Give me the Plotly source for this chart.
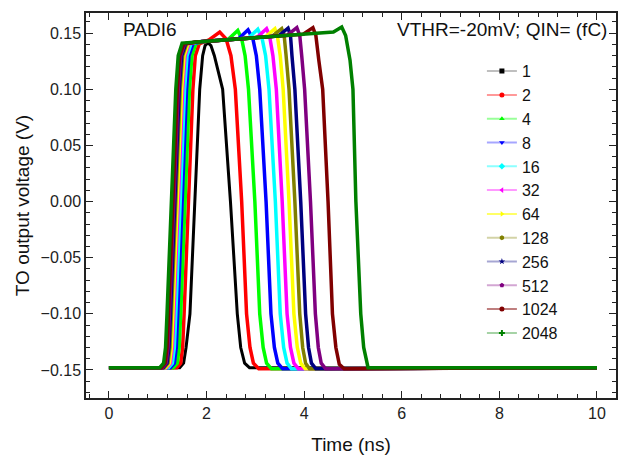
import plotly.graph_objects as go

# QIN values (fC) used as legend labels
charges = ["1", "2", "4", "8", "16", "32", "64", "128", "256", "512", "1024", "2048"]

# waveform points: time (ns), TO output (V)
t_1 = [0, 1.45, 1.53, 1.58, 1.66, 1.76, 1.86, 1.92, 1.97, 2.03, 2.09, 2.16, 2.33, 2.49, 2.63, 2.70, 2.78, 2.88, 10]
v_1 = [-0.148, -0.148, -0.144, -0.13, -0.10, 0.0, 0.10, 0.13, 0.139, 0.1415, 0.139, 0.13, 0.10, 0.0, -0.10, -0.13, -0.144, -0.148, -0.148]

t_2 = [0, 1.39, 1.47, 1.51, 1.54, 1.63, 1.72, 1.77, 1.85, 2.05, 2.27, 2.40, 2.50, 2.59, 2.72, 2.82, 2.89, 2.96, 3.07, 10]
v_2 = [-0.148, -0.148, -0.144, -0.13, -0.10, 0.0, 0.10, 0.13, 0.1405, 0.1440, 0.151, 0.145, 0.13, 0.10, 0.0, -0.10, -0.13, -0.144, -0.149, -0.148]

t_4 = [0, 1.32, 1.40, 1.44, 1.47, 1.56, 1.65, 1.70, 1.78, 1.95, 2.44, 2.64, 2.72, 2.79, 2.86, 2.99, 3.09, 3.16, 3.23, 3.33, 10]
v_4 = [-0.148, -0.148, -0.144, -0.13, -0.10, 0.0, 0.10, 0.13, 0.1405, 0.1427, 0.1443, 0.1525, 0.145, 0.13, 0.10, 0.0, -0.10, -0.13, -0.144, -0.149, -0.148]

t_8 = [0, 1.26, 1.34, 1.38, 1.41, 1.50, 1.59, 1.64, 1.72, 1.90, 2.65, 2.85, 2.95, 3.02, 3.09, 3.22, 3.32, 3.39, 3.46, 3.56, 10]
v_8 = [-0.148, -0.148, -0.144, -0.13, -0.10, 0.0, 0.10, 0.13, 0.1405, 0.1426, 0.1449, 0.153, 0.145, 0.13, 0.10, 0.0, -0.10, -0.13, -0.144, -0.149, -0.148]

t_16 = [0, 1.22, 1.30, 1.34, 1.37, 1.46, 1.55, 1.60, 1.68, 1.85, 2.85, 3.05, 3.14, 3.21, 3.28, 3.41, 3.51, 3.58, 3.65, 3.74, 10]
v_16 = [-0.148, -0.148, -0.144, -0.13, -0.10, 0.0, 0.10, 0.13, 0.1405, 0.1424, 0.1455, 0.1535, 0.145, 0.13, 0.10, 0.0, -0.10, -0.13, -0.144, -0.149, -0.148]

t_32 = [0, 1.18, 1.26, 1.30, 1.33, 1.42, 1.51, 1.56, 1.64, 1.80, 3.03, 3.23, 3.29, 3.36, 3.43, 3.55, 3.65, 3.72, 3.79, 3.88, 10]
v_32 = [-0.148, -0.148, -0.144, -0.13, -0.10, 0.0, 0.10, 0.13, 0.1405, 0.1422, 0.1461, 0.154, 0.148, 0.13, 0.10, 0.0, -0.10, -0.13, -0.144, -0.149, -0.148]

t_64 = [0, 1.16, 1.24, 1.28, 1.31, 1.40, 1.49, 1.54, 1.62, 1.80, 3.20, 3.40, 3.45, 3.51, 3.57, 3.69, 3.79, 3.86, 3.93, 4.02, 10]
v_64 = [-0.148, -0.148, -0.144, -0.13, -0.10, 0.0, 0.10, 0.13, 0.1405, 0.1422, 0.1466, 0.154, 0.148, 0.13, 0.10, 0.0, -0.10, -0.13, -0.144, -0.149, -0.148]

t_128 = [0, 1.13, 1.21, 1.25, 1.28, 1.37, 1.46, 1.51, 1.59, 1.80, 3.34, 3.54, 3.59, 3.63, 3.69, 3.81, 3.91, 3.97, 4.03, 4.11, 10]
v_128 = [-0.148, -0.148, -0.144, -0.13, -0.10, 0.0, 0.10, 0.13, 0.1405, 0.1422, 0.1471, 0.154, 0.148, 0.13, 0.10, 0.0, -0.10, -0.13, -0.144, -0.149, -0.148]

t_256 = [0, 1.11, 1.19, 1.23, 1.26, 1.35, 1.44, 1.49, 1.57, 1.80, 3.47, 3.67, 3.72, 3.75, 3.81, 3.93, 4.03, 4.09, 4.15, 4.24, 10]
v_256 = [-0.148, -0.148, -0.144, -0.13, -0.10, 0.0, 0.10, 0.13, 0.1405, 0.1422, 0.1475, 0.1545, 0.148, 0.13, 0.10, 0.0, -0.10, -0.13, -0.144, -0.149, -0.148]

t_512 = [0, 1.09, 1.17, 1.21, 1.24, 1.33, 1.42, 1.47, 1.55, 1.80, 3.65, 3.85, 3.91, 3.95, 4.01, 4.13, 4.23, 4.29, 4.35, 4.44, 10]
v_512 = [-0.148, -0.148, -0.144, -0.13, -0.10, 0.0, 0.10, 0.13, 0.1405, 0.1422, 0.1481, 0.155, 0.148, 0.13, 0.10, 0.0, -0.10, -0.13, -0.144, -0.149, -0.148]

t_1024 = [0, 1.07, 1.15, 1.19, 1.22, 1.31, 1.40, 1.45, 1.53, 1.80, 3.98, 4.18, 4.24, 4.30, 4.38, 4.49, 4.58, 4.65, 4.72, 4.82, 10]
v_1024 = [-0.148, -0.148, -0.144, -0.13, -0.10, 0.0, 0.10, 0.13, 0.1405, 0.1422, 0.1491, 0.155, 0.148, 0.126, 0.10, 0.0, -0.10, -0.13, -0.145, -0.149, -0.148]

t_2048 = [0, 1.04, 1.12, 1.16, 1.19, 1.28, 1.37, 1.42, 1.50, 2.5, 3.5, 4.6, 4.77, 4.85, 4.94, 5.00, 5.06, 5.16, 5.22, 5.31, 10]
v_2048 = [-0.148, -0.148, -0.144, -0.13, -0.10, 0.0, 0.10, 0.13, 0.1412, 0.1444, 0.1476, 0.151, 0.1555, 0.148, 0.126, 0.10, 0.0, -0.10, -0.13, -0.148, -0.148]

times = [t_1, t_2, t_4, t_8, t_16, t_32, t_64, t_128, t_256, t_512, t_1024, t_2048]
volts = [v_1, v_2, v_4, v_8, v_16, v_32, v_64, v_128, v_256, v_512, v_1024, v_2048]

colors = ["#000000", "#FF0000", "#00FF00", "#0000FF", "#00FFFF", "#FF00FF",
          "#FFFF00", "#808000", "#000080", "#800080", "#800000", "#008000"]
faint = ["rgba(0,0,0,0.25)", "rgba(255,0,0,0.4)", "rgba(0,255,0,0.4)", "rgba(0,0,255,0.35)",
         "rgba(0,255,255,0.45)", "rgba(255,0,255,0.4)", "rgba(255,255,0,0.6)", "rgba(128,128,0,0.35)",
         "rgba(0,0,128,0.35)", "rgba(128,0,128,0.35)", "rgba(128,0,0,0.5)", "rgba(0,128,0,0.35)"]
symbols = ["square", "circle", "triangle-up", "triangle-down", "diamond", "triangle-left",
           "triangle-right", "hexagon", "star", "pentagon", "circle", "cross"]

fig = go.Figure()

for i in range(len(charges)):
    fig.add_trace(go.Scatter(x=times[i], y=volts[i],
                             mode='lines',
                             line=dict(color=colors[i], width=3.5 if i else 3),
                             showlegend=False,
                             hoverinfo='skip'))

# legend entries in the Origin style: faint line, small solid marker
for i in range(len(charges)):
    fig.add_trace(go.Scatter(x=[None], y=[None],
                             mode='lines+markers',
                             name=charges[i],
                             line=dict(color=faint[i], width=2),
                             marker=dict(symbol=symbols[i], size=5, color=colors[i]),
                             ))

axis_style = dict(showline=True,
                  linecolor='#222',
                  linewidth=1.5,
                  mirror='allticks',
                  ticks='inside',
                  ticklen=7,
                  tickwidth=1.2,
                  tickcolor='#222',
                  showgrid=False,
                  zeroline=False,
                  automargin=False,
                  tickfont=dict(size=16, color='#222'),
                  )

fig.update_layout(width=618, height=461,
                  margin=dict(l=86, r=2, t=13, b=63),
                  paper_bgcolor='white',
                  plot_bgcolor='white',
                  font=dict(family='Arial, Liberation Sans, sans-serif', color='#111'),
                  xaxis=dict(axis_style, range=[-0.47, 10.39], dtick=2, tick0=0,
                             title=dict(text='Time (ns)', font=dict(size=19), standoff=17),
                             minor=dict(dtick=0.4, tick0=0, ticks='inside', ticklen=4, tickcolor='#222')),
                  yaxis=dict(axis_style, range=[-0.175, 0.168], dtick=0.05, tick0=0,
                             tickformat='.2f',
                             title=dict(text='TO output voltage (V)', font=dict(size=19), standoff=6),
                             minor=dict(dtick=0.01, tick0=0, ticks='inside', ticklen=4, tickcolor='#222')),
                  legend=dict(x=0.747, y=0.893, xanchor='left', yanchor='top',
                              font=dict(size=16, color='#111'),
                              bgcolor='rgba(0,0,0,0)'),
                  showlegend=True,
                  )

fig.add_annotation(text='PADI6', xref='paper', yref='paper', x=0.066, y=0.958,
                   xanchor='left', yanchor='middle', showarrow=False, font=dict(size=19))
fig.add_annotation(text='VTHR=-20mV; QIN= (fC)', xref='paper', yref='paper', x=0.987, y=0.958,
                   xanchor='right', yanchor='middle', showarrow=False, font=dict(size=19))

# the page body has a default 8px margin that would push the 618px figure off the window
fig.write_html("out.html", config={'displayModeBar': False},
               post_script="document.body.style.margin='0';")
